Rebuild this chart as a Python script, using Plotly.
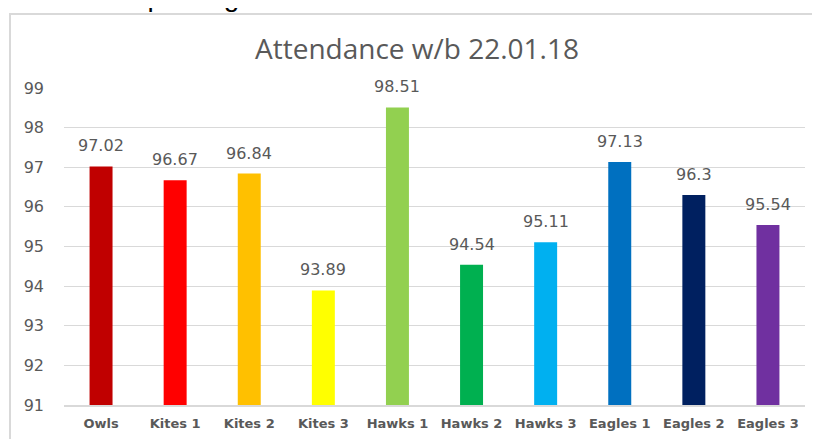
import plotly.graph_objects as go

categories = ["Owls", "Kites 1", "Kites 2", "Kites 3", "Hawks 1", "Hawks 2",
              "Hawks 3", "Eagles 1", "Eagles 2", "Eagles 3"]
values = [97.02, 96.67, 96.84, 93.89, 98.51, 94.54, 95.11, 97.13, 96.3, 95.54]
labels = ["97.02", "96.67", "96.84", "93.89", "98.51", "94.54", "95.11", "97.13", "96.3", "95.54"]
colors = ["#C00000", "#FF0000", "#FFC000", "#FFFF00", "#92D050", "#00B050",
          "#00B0F0", "#0070C0", "#002060", "#7030A0"]
y_ticks = [91, 92, 93, 94, 95, 96, 97, 98, 99]

# page body has an 8px margin; work in window pixels and convert
OFF = 8
W, H = 820 - OFF, 439 - OFF
L, R, T, B = 64 - OFF, 15, 88 - OFF, 34
PW, PH = W - L - R, H - T - B

def px_x(px):
    return (px - OFF - L) / PW

def px_y(py):
    return (H - B - (py - OFF)) / PH

GREY = "#595959"
FONT = "DejaVu Sans"

fig = go.Figure()
fig.add_trace(go.Bar(
    x=categories, y=values, marker_color=colors, marker_line_width=0,
))

for cat, val, lab in zip(categories, values, labels):
    fig.add_annotation(x=cat, y=val, text=lab, showarrow=False,
                       xanchor="center", yanchor="bottom", yshift=9,
                       font=dict(family=FONT, size=16, color=GREY))

fig.update_layout(
    width=W, height=H,
    margin=dict(l=L, r=R, t=T, b=B, autoexpand=False),
    paper_bgcolor="white", plot_bgcolor="white",
    bargap=0.69,
    showlegend=False,
    title=dict(text="Attendance w/b 22.01.18", x=(417 - OFF) / W, xanchor="center",
               y=1 - (49 - OFF) / H, yanchor="middle",
               font=dict(family="Open Sans", size=28, color=GREY)),
    xaxis=dict(showline=True, linecolor="#D9D9D9", linewidth=1.5, ticks="", automargin=False,
               ticklabelstandoff=6,
               tickfont=dict(family=FONT, size=13, color=GREY, weight="bold")),
    yaxis=dict(range=[91, 99], tickvals=y_ticks, showgrid=True, gridcolor="#D9D9D9",
               gridwidth=1.2, zeroline=False, ticks="", ticklabelstandoff=19, automargin=False,
               tickfont=dict(family=FONT, size=16, color=GREY)),
)

fig.add_shape(type="rect", xref="paper", yref="paper",
              x0=px_x(10), x1=px_x(900), y0=px_y(520), y1=px_y(14),
              line=dict(color="#D9D9D9", width=2), fillcolor="rgba(0,0,0,0)", layer="below")

fig.add_annotation(text="us further improving our attendance.", xref="paper", yref="paper",
                   x=px_x(-9), y=px_y(7), xanchor="left", yanchor="bottom",
                   showarrow=False, font=dict(family="Liberation Sans", size=28, color="#000000"),
                   borderpad=0, yshift=-6)

fig.write_html("out.html")
